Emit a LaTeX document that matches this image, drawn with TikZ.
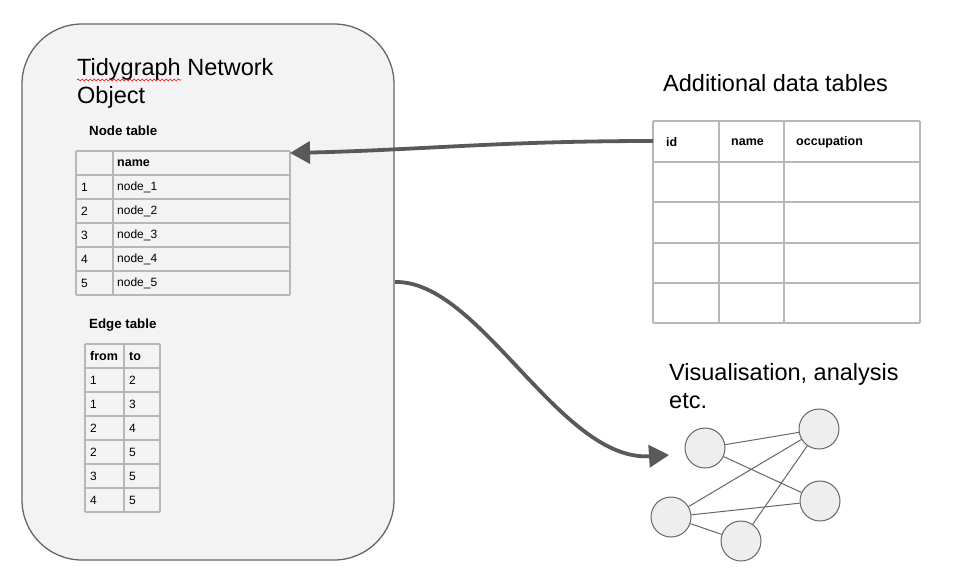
\documentclass[tikz,border=0pt]{standalone}
\usepackage{fontspec}
\setmainfont{Liberation Sans}
\usetikzlibrary{arrows.meta,decorations.pathmorphing}
\definecolor{boxfill}{HTML}{F3F3F3}
\definecolor{boxline}{HTML}{666666}
\definecolor{gridc}{HTML}{B7B7B7}
\definecolor{arrowc}{HTML}{595959}
\definecolor{circfill}{HTML}{EEEEEE}
\tikzset{
  gridline/.style={draw=gridc, line width=1.4pt},
  cell/.style={anchor=west, inner sep=0pt, font=\fontsize{12}{14}\selectfont},
  hcell/.style={cell, font=\fontsize{12.5}{14}\selectfont\bfseries},
  bigtext/.style={anchor=base west, inner sep=0pt, font=\fontsize{23.5}{27}\selectfont},
  ttitle/.style={anchor=west, inner sep=0pt, font=\fontsize{13.3}{15}\selectfont\bfseries},
  bigarrow/.style={draw=arrowc, line width=3.8pt, -{Triangle[length=20pt,width=22pt]}},
  netnode/.style={circle, draw=boxline, fill=circfill, line width=1pt, minimum size=40pt, inner sep=0pt},
  netedge/.style={draw=boxline, line width=1pt},
}
\begin{document}
\begin{tikzpicture}[x=1pt,y=-1pt]
\useasboundingbox (0,0) rectangle (971,578);
% container
\draw[fill=boxfill, draw=boxline, line width=1.3pt, rounded corners=60pt] (22,24) rectangle (394,560);
\node[bigtext] (title1) at (77,75) {Tidygraph Network};
\node[bigtext] (title2) at (77,103) {Object};
\draw[red, line width=0.6pt, decoration={snake, amplitude=1pt, segment length=4pt}, decorate] (77,80) -- (181,80);
% node table
\node[ttitle] (ntt) at (89,131) {Node table};
\fill[boxfill] (76,151) rectangle (290,295);
\foreach \y in {151,175,199,223,247,271,295} \draw[gridline] (76,\y) -- (290,\y);
\foreach \x in {76,113,290} \draw[gridline] (\x,151) -- (\x,295);
\node[hcell] (nth) at (117,163) {name};
\foreach \i/\y in {1/187,2/211,3/235,4/259,5/283}{
  \node[cell] (ni\i) at (81,\y) {\i};
  \node[cell] (nn\i) at (117,\y) {node\_\i};
}
\coordinate (ntNE) at (290,153);
\coordinate (ntOut) at (395,282);
% edge table
\node[ttitle] (ett) at (89,325) {Edge table};
\foreach \y in {344,368,392,416,440,464,488,512} \draw[gridline] (85,\y) -- (160,\y);
\foreach \x in {85,124,160} \draw[gridline] (\x,344) -- (\x,512);
\node[hcell] (ef) at (90,356) {from};
\node[hcell] (et) at (129,356) {to};
\foreach \a/\b/\y in {1/2/380,1/3/404,2/4/428,2/5/452,3/5/476,4/5/500}{
  \node[cell] at (90,\y) {\a};
  \node[cell] at (129,\y) {\b};
}
% additional data tables
\node[bigtext] (addt) at (663,92) {Additional data tables};
\foreach \y in {121,162,202,243,283,323} \draw[gridline] (653,\y) -- (920,\y);
\foreach \x in {653,719,784,920} \draw[gridline] (\x,121) -- (\x,323);
\node[hcell] (hid) at (666,142) {id};
\node[hcell] (hname) at (731,142) {name};
\node[hcell] (hocc) at (796,142) {occupation};
\coordinate (addW) at (653,141);
% arrows
\draw[bigarrow] (addW) .. controls (500,141) and (420,150) .. (ntNE);
% visualisation
\node[bigtext] (vis1) at (669,380) {Visualisation, analysis};
\node[bigtext] (vis2) at (669,408) {etc.};
\node[netnode] (A) at (705,448) {};
\node[netnode] (B) at (819,429) {};
\node[netnode] (C) at (820,501) {};
\node[netnode] (D) at (671,517) {};
\node[netnode] (E) at (741,541) {};
\coordinate (visIn) at (669,455);
\draw[bigarrow] (ntOut) .. controls (480,280) and (560,462) .. (visIn);
\draw[netedge] (A) -- (B);
\draw[netedge] (A) -- (C);
\draw[netedge] (D) -- (B);
\draw[netedge] (D) -- (C);
\draw[netedge] (D) -- (E);
\draw[netedge] (E) -- (B);
\end{tikzpicture}
\end{document}
